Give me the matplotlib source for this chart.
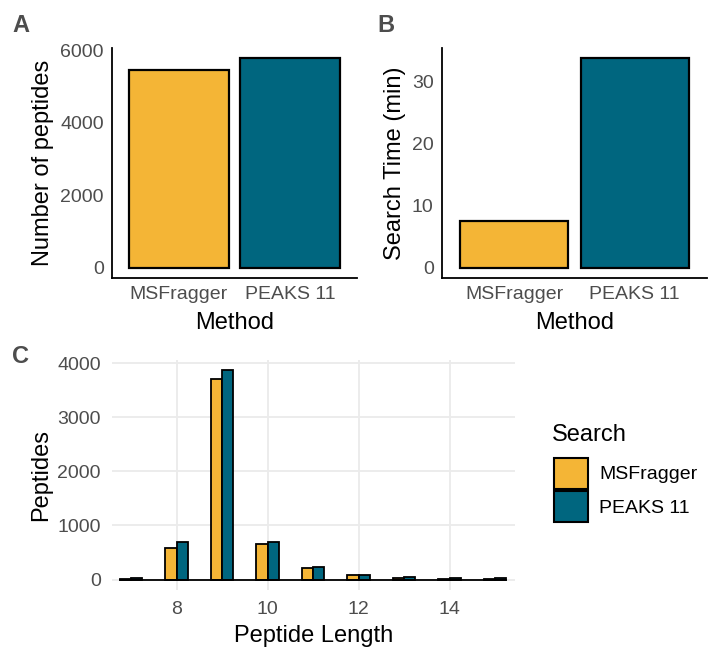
import numpy as np
import matplotlib
matplotlib.use("Agg")
import matplotlib.pyplot as plt
from matplotlib.patches import Patch

plt.rcParams['font.family'] = ['Liberation Sans', 'DejaVu Sans']

# Data
methods = ["MSFragger", "PEAKS 11"]
n_peptides = [5450, 5770]
search_time = [7.5, 33.7]

lengths = np.array([7, 8, 9, 10, 11, 12, 13, 14, 15])
msf_counts = [10, 590, 3710, 665, 215, 80, 37, 18, 15]
peaks_counts = [25, 695, 3865, 695, 234, 92, 43, 20, 20]

colors = ["#F4B536", "#00667F"]
tick_gray = "#4D4D4D"
TICK_FS = 14
TITLE_FS = 17

W, H = 715, 652
fig = plt.figure(figsize=(W / 100, H / 100), dpi=100)


def px_axes(left, top, right, bottom):
    return fig.add_axes([left / W, 1 - bottom / H, (right - left) / W, (bottom - top) / H])


def classic(ax):
    for s in ["top", "right"]:
        ax.spines[s].set_visible(False)
    for s in ["left", "bottom"]:
        ax.spines[s].set_linewidth(1.3)
    ax.tick_params(length=0, labelsize=TICK_FS, labelcolor=tick_gray, pad=6)


# Panel A
axA = px_axes(112, 48, 357, 278)
axA.bar([1, 2], n_peptides, width=0.9, color=colors, edgecolor="black", linewidth=1.6)
axA.set_xlim(0.4, 2.6)
axA.set_ylim(-0.05 * max(n_peptides), 1.05 * max(n_peptides))
axA.set_xticks([1, 2], methods)
axA.set_yticks([0, 2000, 4000, 6000])
classic(axA)
axA.set_xlabel("Method", fontsize=TITLE_FS, labelpad=6)
axA.set_ylabel("Number of peptides", fontsize=TITLE_FS, labelpad=4)

# Panel B
axB = px_axes(442, 48, 707, 278)
axB.bar([1, 2], search_time, width=0.9, color=colors, edgecolor="black", linewidth=1.6)
axB.set_xlim(0.4, 2.6)
axB.set_ylim(-0.05 * max(search_time), 1.05 * max(search_time))
axB.set_xticks([1, 2], methods)
axB.set_yticks([0, 10, 20, 30])
classic(axB)
axB.set_xlabel("Method", fontsize=TITLE_FS, labelpad=6)
axB.set_ylabel("Search Time (min)", fontsize=TITLE_FS, labelpad=4)

# Panel C
axC = px_axes(112, 360, 515, 590)
bw = 0.25
axC.bar(lengths - bw / 2, msf_counts, width=bw, color=colors[0], edgecolor="black",
        linewidth=1.3, zorder=3)
axC.bar(lengths + bw / 2, peaks_counts, width=bw, color=colors[1], edgecolor="black",
        linewidth=1.3, zorder=3)
axC.plot([lengths.min() - bw, lengths.max() + bw], [0, 0], color="black", lw=1.3, zorder=4)
top = max(peaks_counts)
axC.set_ylim(-0.05 * top, 1.05 * top)
axC.set_xlim(6.58, 15.44)
axC.set_xticks([8, 10, 12, 14])
axC.set_yticks([0, 1000, 2000, 3000, 4000])
axC.grid(True, color="#EBEBEB", linewidth=1.3, zorder=0)
for s in axC.spines.values():
    s.set_visible(False)
axC.tick_params(length=0, labelsize=TICK_FS, labelcolor=tick_gray, pad=8)
axC.set_xlabel("Peptide Length", fontsize=TITLE_FS, labelpad=5)
axC.set_ylabel("Peptides", fontsize=TITLE_FS, labelpad=4)

# Legend (title placed separately for the ggplot-like gap)
fig.text(552 / W, 1 - 441 / H, "Search", fontsize=TITLE_FS, va="baseline", ha="left")
handles = [Patch(facecolor=c, edgecolor="black", linewidth=1.5) for c in colors]
leg = fig.legend(handles, methods, loc="upper left",
                 bbox_to_anchor=(536 / W, 1 - 440 / H), frameon=False, fontsize=TICK_FS,
                 handlelength=1.75, handleheight=2.1,
                 labelspacing=0.1, handletextpad=0.6)

# Panel tags
for lab, x, y in [("A", 12, 32), ("B", 377, 32), ("C", 12, 363)]:
    fig.text(x / W, 1 - y / H, lab, fontsize=17, fontweight="bold", color=tick_gray)

fig.savefig("out.png", dpi=100)
